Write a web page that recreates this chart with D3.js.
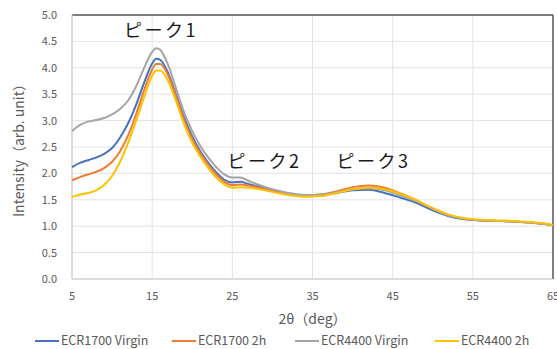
<!DOCTYPE html>
<html>
<head>
<meta charset="utf-8">
<script src="https://cdn.jsdelivr.net/npm/d3@7"></script>
<style>
  body { margin: 0; background: #fff; }
  text { font-family: "Noto Sans CJK JP", "Noto Sans", sans-serif; }
</style>
</head>
<body>
<script>
const xVals = [5,6,7,8,9,10,11,12,13,14,15,15.5,16,17,18,19,20,21,22,23,24,25,26,27,28,30,32,34,36,38,40,42,44,46,48,50,52,54,56,58,60,62,64,65];
const ecr1700Virgin = [2.12,2.20,2.25,2.30,2.37,2.48,2.68,2.95,3.30,3.72,4.08,4.17,4.15,3.90,3.48,3.05,2.70,2.42,2.20,2.02,1.88,1.83,1.84,1.80,1.76,1.68,1.62,1.58,1.59,1.63,1.68,1.69,1.63,1.54,1.44,1.30,1.19,1.13,1.11,1.10,1.09,1.07,1.04,1.02];
const ecr1700_2h = [1.87,1.93,1.98,2.03,2.10,2.22,2.42,2.72,3.12,3.58,3.97,4.07,4.07,3.85,3.44,3.00,2.65,2.38,2.16,1.98,1.84,1.78,1.79,1.77,1.74,1.67,1.61,1.58,1.60,1.66,1.74,1.77,1.73,1.62,1.49,1.33,1.21,1.14,1.11,1.10,1.09,1.07,1.04,1.02];
const ecr4400Virgin = [2.80,2.92,2.98,3.01,3.05,3.12,3.22,3.38,3.65,4.00,4.30,4.37,4.34,4.05,3.60,3.15,2.80,2.52,2.30,2.12,1.98,1.92,1.92,1.86,1.80,1.70,1.63,1.59,1.60,1.64,1.70,1.72,1.68,1.58,1.47,1.33,1.20,1.14,1.11,1.10,1.09,1.07,1.04,1.02];
const ecr4400_2h = [1.55,1.60,1.63,1.68,1.78,1.95,2.22,2.58,3.00,3.45,3.85,3.95,3.95,3.75,3.36,2.93,2.58,2.32,2.10,1.92,1.79,1.73,1.74,1.73,1.71,1.65,1.59,1.56,1.57,1.63,1.70,1.73,1.70,1.61,1.49,1.34,1.22,1.15,1.12,1.11,1.10,1.08,1.05,1.02];

const seriesNames = ["ECR1700 Virgin","ECR1700 2h","ECR4400 Virgin","ECR4400 2h"];
const seriesColors = ["#4472C4","#ED7D31","#A5A5A5","#FFC000"];
const seriesValues = [ecr1700Virgin, ecr1700_2h, ecr4400Virgin, ecr4400_2h];

const xTicks = [5,15,25,35,45,55,65];
const yTicks = [0,0.5,1,1.5,2,2.5,3,3.5,4,4.5,5];

const peakLabels = ["ピーク1","ピーク2","ピーク3"];
const peakPos = [[16.1,4.58],[29,2.1],[42.6,2.1]];

let width = 557, height = 349;
let margin = {left:72, top:15, right:4, bottom:70};

let svg = d3.select("body").append("svg")
  .attr("width",width).attr("height",height);

let x = d3.scaleLinear().domain([5,65]).range([margin.left, width-margin.right]);
let y = d3.scaleLinear().domain([0,5]).range([height-margin.bottom, margin.top]);

// grid
svg.append("g").selectAll("line.h").data(yTicks).enter().append("line")
  .attr("x1",x(5)).attr("x2",x(65))
  .attr("y1",d=>y(d)).attr("y2",d=>y(d))
  .attr("stroke","#e3e3e3").attr("stroke-width",1);
svg.append("g").selectAll("line.v").data(xTicks).enter().append("line")
  .attr("y1",y(0)).attr("y2",y(5))
  .attr("x1",d=>x(d)).attr("x2",d=>x(d))
  .attr("stroke","#e3e3e3").attr("stroke-width",1);

// frame: dark top/right, light axis lines
svg.append("line").attr("x1",x(5)).attr("x2",x(65)).attr("y1",y(5)).attr("y2",y(5))
  .attr("stroke","#595959").attr("stroke-width",1.5);
svg.append("line").attr("x1",x(65)).attr("x2",x(65)).attr("y1",y(5)).attr("y2",y(0))
  .attr("stroke","#595959").attr("stroke-width",1.5);
svg.append("line").attr("x1",x(5)).attr("x2",x(5)).attr("y1",y(5)).attr("y2",y(0))
  .attr("stroke","#c8c8c8").attr("stroke-width",1);
svg.append("line").attr("x1",x(5)).attr("x2",x(65)).attr("y1",y(0)).attr("y2",y(0))
  .attr("stroke","#c8c8c8").attr("stroke-width",1);

// tick labels
svg.append("g").selectAll("text").data(yTicks).enter().append("text")
  .attr("x",x(5)-15).attr("y",d=>y(d)+4)
  .attr("text-anchor","end").attr("font-size",11).attr("fill","#595959")
  .text(d=>d3.format(".1f")(d));
svg.append("g").selectAll("text").data(xTicks).enter().append("text")
  .attr("x",d=>x(d)).attr("y",y(0)+21)
  .attr("text-anchor","middle").attr("font-size",11).attr("fill","#595959")
  .text(d=>d);

// axis titles
svg.append("text").attr("transform","translate(24,"+((y(0)+y(5))/2)+") rotate(-90)")
  .attr("text-anchor","middle").attr("font-size",14).attr("fill","#595959")
  .text("Intensity（arb. unit）");
svg.append("text").attr("x",(x(5)+x(65))/2).attr("y",y(0)+45)
  .attr("text-anchor","middle").attr("font-size",14).attr("fill","#595959")
  .text("2θ（deg）");

// lines
let line = d3.line().x((d,i)=>x(xVals[i])).y(d=>y(d)).curve(d3.curveMonotoneX);
svg.append("g").selectAll("path").data(seriesValues).enter().append("path")
  .attr("d",line)
  .attr("fill","none")
  .attr("stroke",(d,i)=>seriesColors[i])
  .attr("stroke-width",2);

// peak labels
svg.append("g").selectAll("text").data(peakLabels).enter().append("text")
  .attr("x",(d,i)=>x(peakPos[i][0])).attr("y",(d,i)=>y(peakPos[i][1]))
  .attr("text-anchor","middle").attr("font-size",18).attr("letter-spacing",2.5)
  .attr("fill","#1a1a1a")
  .text(d=>d);

// legend
let legendX = [35,172,295,435];
let legends = svg.append("g").selectAll("g").data(seriesNames).enter().append("g")
  .attr("transform",(d,i)=>"translate("+legendX[i]+",341)");
legends.append("line").attr("x1",0).attr("x2",24).attr("y1",0).attr("y2",0)
  .attr("stroke",(d,i)=>seriesColors[i]).attr("stroke-width",2);
legends.append("text").attr("x",26).attr("y",4)
  .attr("font-size",12.5).attr("fill","#595959").text(d=>d);
</script>
</body>
</html>
